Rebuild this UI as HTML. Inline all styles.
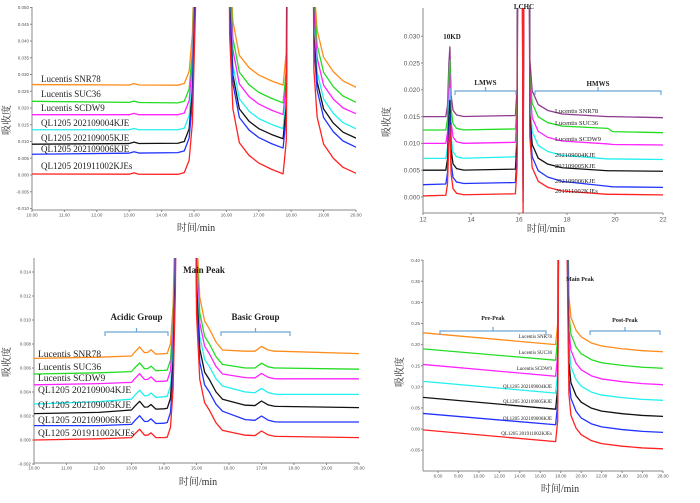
<!DOCTYPE html>
<html><head><meta charset="utf-8">
<style>
html,body{margin:0;padding:0;background:#fff;}
svg{display:block;font-family:"Liberation Serif","Noto Serif CJK SC",serif;}
.tk{font-family:"Liberation Sans",sans-serif;fill:#555;}
</style></head>
<body>
<svg id="fig" width="700" height="503" viewBox="0 0 700 503" xmlns="http://www.w3.org/2000/svg"></svg>
<script>
// ---------- Panel A data ----------
const aProfileT = [10,13.0,13.15,13.3,14.5,14.7,14.85,14.95,15.05,15.1,16.0,16.1,16.2,16.4,16.7,17.0,17.4,17.75,17.85,17.95,18.6,18.7,18.8,19.0,19.3,19.6,20];
const aProfileV = [0,0,0.0004,0,0,0.0005,0.004,0.015,0.05,0.2,0.2,0.04,0.018,0.008,0.0045,0.0025,0.001,0,0.01,0.2,0.2,0.03,0.016,0.008,0.004,0.0015,0];
const aLevelT = [10,14.7,16.0,17.8,18.6,20];
const aOrange = [0.027,0.0268,0.028,0.0268,0.0275,0.0262];
const aGreen = [0.022,0.0215,0.023,0.0215,0.023,0.0217];
const aMagenta = [0.018,0.018,0.0195,0.018,0.019,0.0183];
const aCyan = [0.0135,0.0135,0.015,0.0138,0.015,0.0138];
const aBlack = [0.0092,0.0095,0.012,0.0108,0.012,0.011];
const aBlue = [0.0062,0.0067,0.0095,0.008,0.0095,0.0083];
const aRed = [0.0003,0.0002,0.002,0.0003,0.0015,0.0005];
const aNames = ["Lucentis SNR78","Lucentis SUC36","Lucentis SCDW9","QL1205  202109004KJE","QL1205  202109005KJE","QL1205  202109006KJE","QL1205  201911002KJEs"];
const aXTicks = ["10.00","11.00","12.00","13.00","14.00","15.00","16.00","17.00","18.00","19.00","20.00"];
const aYTicks = ["-0.010","-0.005","0.000","0.005","0.010","0.015","0.020","0.025","0.030","0.035","0.040","0.045","0.050"];
// ---------- Panel B data ----------
const bProfileT = [12,12.95,13.02,13.08,13.12,13.17,13.25,13.4,13.7,15.85,15.92,15.98,16.1,16.17,16.25,16.4,16.45,16.55,16.8,17.2,17.8,22];
const bProfileV = [0,0,0.002,0.01,0.013,0.004,0.0012,0.0003,0,0,0.005,0.1,0.1,-0.004,0.1,0.1,0.01,0.004,0.0015,0.0005,0,0];
const bLevelT = [12,13.5,15.85,16.6,19.7,19.9,22];
const bPurple = [0.015,0.015,0.0152,0.0158,0.015,0.015,0.0148];
const bGreen = [0.0125,0.0125,0.0127,0.0135,0.0128,0.0122,0.012];
const bMagenta = [0.010,0.010,0.0102,0.0108,0.0099,0.0098,0.0097];
const bCyan = [0.0072,0.0072,0.0075,0.0082,0.0071,0.0071,0.007];
const bBlack = [0.005,0.005,0.0052,0.0058,0.0049,0.0049,0.0048];
const bBlue = [0.0023,0.0025,0.0027,0.0035,0.002,0.0019,0.0018];
const bRed = [0.0002,0.0004,0.0006,0.0015,0.0005,0.0005,0.0004];
const bNames = ["Lucentis SNR78","Lucentis SUC36","Lucentis SCDW9","202109004KJE","202109005KJE","202109006KJE","201911002KJEs"];
const bXTicks = ["12","14","16","18","20","22"];
const bYTicks = ["0.000","0.005","0.010","0.015","0.020","0.025","0.030"];
// ---------- Panel C data ----------
const cProfileT = [10,13.0,13.1,13.25,13.4,13.5,13.6,13.75,14.1,14.2,14.28,14.35,14.4,14.95,15.0,15.1,15.25,15.4,15.6,15.8,16.8,17.0,17.2,17.4,20];
const cProfileV = [0,0,0.0003,0.0007,0.0002,0.0002,0.0004,0,0,0.0008,0.004,0.012,0.03,0.03,0.01,0.0045,0.0025,0.0018,0.0007,0,0,0.0004,0.0001,0,0];
const cLevelT = [10,12,13.0,14.0,15.8,16.5,17.5,20];
const cOrange = [0.0068,0.0069,0.007,0.0072,0.0075,0.0074,0.0074,0.0072];
const cGreen = [0.0055,0.0056,0.0057,0.0058,0.0063,0.006,0.006,0.0059];
const cMagenta = [0.0046,0.0047,0.0048,0.0049,0.0055,0.0052,0.0051,0.0051];
const cCyan = [0.003,0.0032,0.0034,0.0036,0.0045,0.004,0.0038,0.0038];
const cBlack = [0.0022,0.0023,0.0025,0.0026,0.0034,0.0029,0.0028,0.0027];
const cBlue = [0.0012,0.0012,0.0013,0.0014,0.0024,0.0017,0.0015,0.0015];
const cRed = [0.0,0.0001,0.0002,0.0002,0.0008,0.0004,0.0003,0.0002];
const cXTicks = ["10.00","11.00","12.00","13.00","14.00","15.00","16.00","17.00","18.00","19.00","20.00"];
const cYTicks = ["-0.002","0.000","0.002","0.004","0.006","0.008","0.010","0.012","0.014"];
// ---------- Panel D data ----------
const dProfileT = [4.5,17.5,17.7,17.8,18.6,18.8,19.0,19.5,20,21,22,24,26,28];
const dProfileV = [0,0,0.05,0.5,0.5,0.12,0.07,0.04,0.025,0.012,0.006,0.002,0,0];
const dLevelT = [4.5,17.5,18.6,28];
const dOrange = [0.228,0.20,0.195,0.183];
const dGreen = [0.19,0.163,0.155,0.144];
const dMagenta = [0.153,0.125,0.117,0.105];
const dCyan = [0.113,0.085,0.078,0.068];
const dBlack = [0.075,0.047,0.04,0.03];
const dBlue = [0.037,0.01,0.003,-0.008];
const dRed = [-0.002,-0.03,-0.037,-0.047];
const dXTicks = ["6.00","8.00","10.00","12.00","14.00","16.00","18.00","20.00","22.00","24.00","26.00","28.00"];
const dYTicks = ["-0.05","0.00","0.05","0.10","0.15","0.20","0.25","0.30","0.35","0.40"];

const C7 = ["#ff8c1a","#22dd22","#ff22ff","#22f0f0","#111111","#2233ff","#ff2222"];
const CB = ["#8e3a8e","#22dd22","#ff22ff","#22f0f0","#111111","#2233ff","#ff2222"];
const NS = "http://www.w3.org/2000/svg";
const svg = document.getElementById('fig');
function el(tag, attrs, parent, text){
  const e = document.createElementNS(NS, tag);
  for (const k in attrs) e.setAttribute(k, attrs[k]);
  if (text !== undefined) e.textContent = text;
  (parent || svg).appendChild(e);
  return e;
}
function interp(ts, vs, t){
  if (t <= ts[0]) return vs[0];
  for (let i=1;i<ts.length;i++){ if (t <= ts[i]){ const f=(t-ts[i-1])/(ts[i]-ts[i-1]); return vs[i-1]+f*(vs[i]-vs[i-1]); } }
  return vs[vs.length-1];
}
function panel(cfg){
  const g = el('g', {});
  
  
  const X = t => cfg.px0 + (t - cfg.xv0) * (cfg.px1 - cfg.px0) / (cfg.xv1 - cfg.xv0);
  const Y = v => cfg.py0 - v * cfg.yScale;
  const cid = 'clip-' + cfg.name;
  const defs = el('defs', {}, g);
  const cp = el('clipPath', {id: cid}, defs);
  el('rect', {x: cfg.left, y: cfg.top, width: cfg.right - cfg.left, height: cfg.bottom - cfg.top}, cp);
  const ax = el('line', {x1: cfg.left, y1: cfg.top, x2: cfg.left, y2: cfg.bottom, stroke: '#888', 'stroke-width': 1}, g);
  
  
  const bx = el('line', {x1: cfg.left, y1: cfg.bottom, x2: cfg.right, y2: cfg.bottom, stroke: '#888', 'stroke-width': 1}, g);
  
  
  cfg.xTicks.forEach(s => {
    const v = parseFloat(s), x = X(v);
    el('line', {x1: x, y1: cfg.bottom, x2: x, y2: cfg.bottom + 2, stroke: '#888'}, g);
    const t = el('text', {x: x, y: cfg.bottom + 2 + cfg.tickFont, 'font-size': cfg.tickFont, 'text-anchor': 'middle', class: 'tk'}, g, s);
    
    
  });
  cfg.yTicks.forEach(s => {
    const v = parseFloat(s), y = Y(v);
    el('line', {x1: cfg.left - 2, y1: y, x2: cfg.left, y2: y, stroke: '#888'}, g);
    const t = el('text', {x: cfg.left - 3, y: y + cfg.tickFont * 0.35, 'font-size': cfg.tickFont, 'text-anchor': 'end', class: 'tk'}, g, s);
    
    
  });
  const allT = Array.from(new Set(cfg.profT.concat(cfg.levelT))).sort((a,b)=>a-b);
  const lg = el('g', {'clip-path': 'url(#' + cid + ')'}, g);
  cfg.series.forEach((lv, i) => {
    const pts = allT.map(t => X(t).toFixed(2) + ',' + Y(interp(cfg.levelT, lv, t) + interp(cfg.profT, cfg.profV, t)).toFixed(2)).join(' ');
    const p = el('polyline', {points: pts, fill: 'none', stroke: cfg.colors[i], 'stroke-width': 1.3, 'stroke-linejoin': 'round'}, lg);
    
    
  });
  cfg.names.forEach((n, i) => {
    const t = el('text', {x: cfg.labX, y: cfg.labY[i], 'font-size': cfg.labFont, fill: '#222', 'text-anchor': cfg.labAnchor || 'start'}, g, n);
    
    
  });
  const yt = el('text', {x: cfg.ytX, y: cfg.ytY, 'font-size': 10, fill: '#333', 'text-anchor': 'middle', transform: 'rotate(-90 ' + cfg.ytX + ' ' + cfg.ytY + ')'}, g, '吸收度');
  
  
  const xt = el('text', {x: cfg.xtX, y: cfg.xtY, 'font-size': 10, fill: '#333', 'text-anchor': 'middle'}, g, '时间/min');
  
  
  return g;
}
function bracket(x1, x2, y, label, ly, size, bold){
  const g = el('g', {});
  
  
  const m = (x1 + x2) / 2;
  el('path', {d: `M${x1} ${y+4} V${y} H${m} V${y-4} M${m} ${y} H${x2} V${y+4}`, fill: 'none', stroke: '#6aa6d8', 'stroke-width': 1.2}, g);
  el('text', {x: m, y: ly, 'font-size': size, 'font-weight': bold ? 'bold' : 'normal', 'text-anchor': 'middle', fill: '#222'}, g, label);
}
function note(x, y, s, size, name){
  const t = el('text', {x: x, y: y, 'font-size': size, 'font-weight': 'bold', 'text-anchor': 'middle', fill: '#222'}, svg, s);
  
  
}

panel({name:'panel-a', px0:32, px1:356, xv0:10, xv1:20, py0:175, yScale:3350, left:32, right:356, top:7, bottom:210,
  xTicks:aXTicks, yTicks:aYTicks, tickFont:4.5, profT:aProfileT, profV:aProfileV, levelT:aLevelT,
  series:[aOrange,aGreen,aMagenta,aCyan,aBlack,aBlue,aRed], colors:C7, names:aNames,
  labX:41, labY:[82,97,111,126,141,152,169], labFont:9, ytX:10, ytY:120, xtX:196, xtY:231});

panel({name:'panel-b', px0:423, px1:663, xv0:12, xv1:22, py0:197, yScale:5360, left:423, right:663, top:8, bottom:213,
  xTicks:bXTicks, yTicks:bYTicks, tickFont:6.5, profT:bProfileT, profV:bProfileV, levelT:bLevelT,
  series:[bPurple,bGreen,bMagenta,bCyan,bBlack,bBlue,bRed], colors:CB, names:bNames,
  labX:555, labY:[113,125,141,157,168,183,193], labFont:6.5, ytX:390, ytY:122, xtX:546, xtY:232});
note(452, 39, '10KD', 7, 'peak-label-10kd');
note(524, 9, 'LCHC', 7, 'peak-label-lchc');
bracket(455, 516, 91, 'LMWS', 85, 7, true);
bracket(535, 661, 91, 'HMWS', 86, 7, true);

panel({name:'panel-c', px0:34, px1:359, xv0:10, xv1:20, py0:440, yScale:12000, left:34, right:359, top:258, bottom:463,
  xTicks:cXTicks, yTicks:cYTicks, tickFont:4.5, profT:cProfileT, profV:cProfileV, levelT:cLevelT,
  series:[cOrange,cGreen,cMagenta,cCyan,cBlack,cBlue,cRed], colors:C7, names:aNames,
  labX:38, labY:[357,370,381,393,408,423,436], labFont:9.5, ytX:10, ytY:362, xtX:198, xtY:485});
note(204, 273, 'Main Peak', 9, 'main-peak-label');
bracket(105, 168, 332, 'Acidic Group', 320, 9, true);
bracket(221, 290, 332, 'Basic Group', 320, 9, true);

panel({name:'panel-d', px0:438, px1:663, xv0:6, xv1:28, py0:429, yScale:422, left:423, right:663, top:260, bottom:471,
  xTicks:dXTicks, yTicks:dYTicks, tickFont:4.5, profT:dProfileT, profV:dProfileV, levelT:dLevelT,
  series:[dOrange,dGreen,dMagenta,dCyan,dBlack,dBlue,dRed], colors:C7, names:aNames,
  labX:552, labY:[338,354,370,388,403,420,435], labFont:5, labAnchor:'end', ytX:403, ytY:372, xtX:560, xtY:492});
note(580, 281, 'Main Peak', 6, 'main-peak-label-d');
bracket(440, 546, 331, 'Pre-Peak', 320, 6, true);
bracket(590, 660, 331, 'Post-Peak', 322, 6, true);
</script>
</body></html>
